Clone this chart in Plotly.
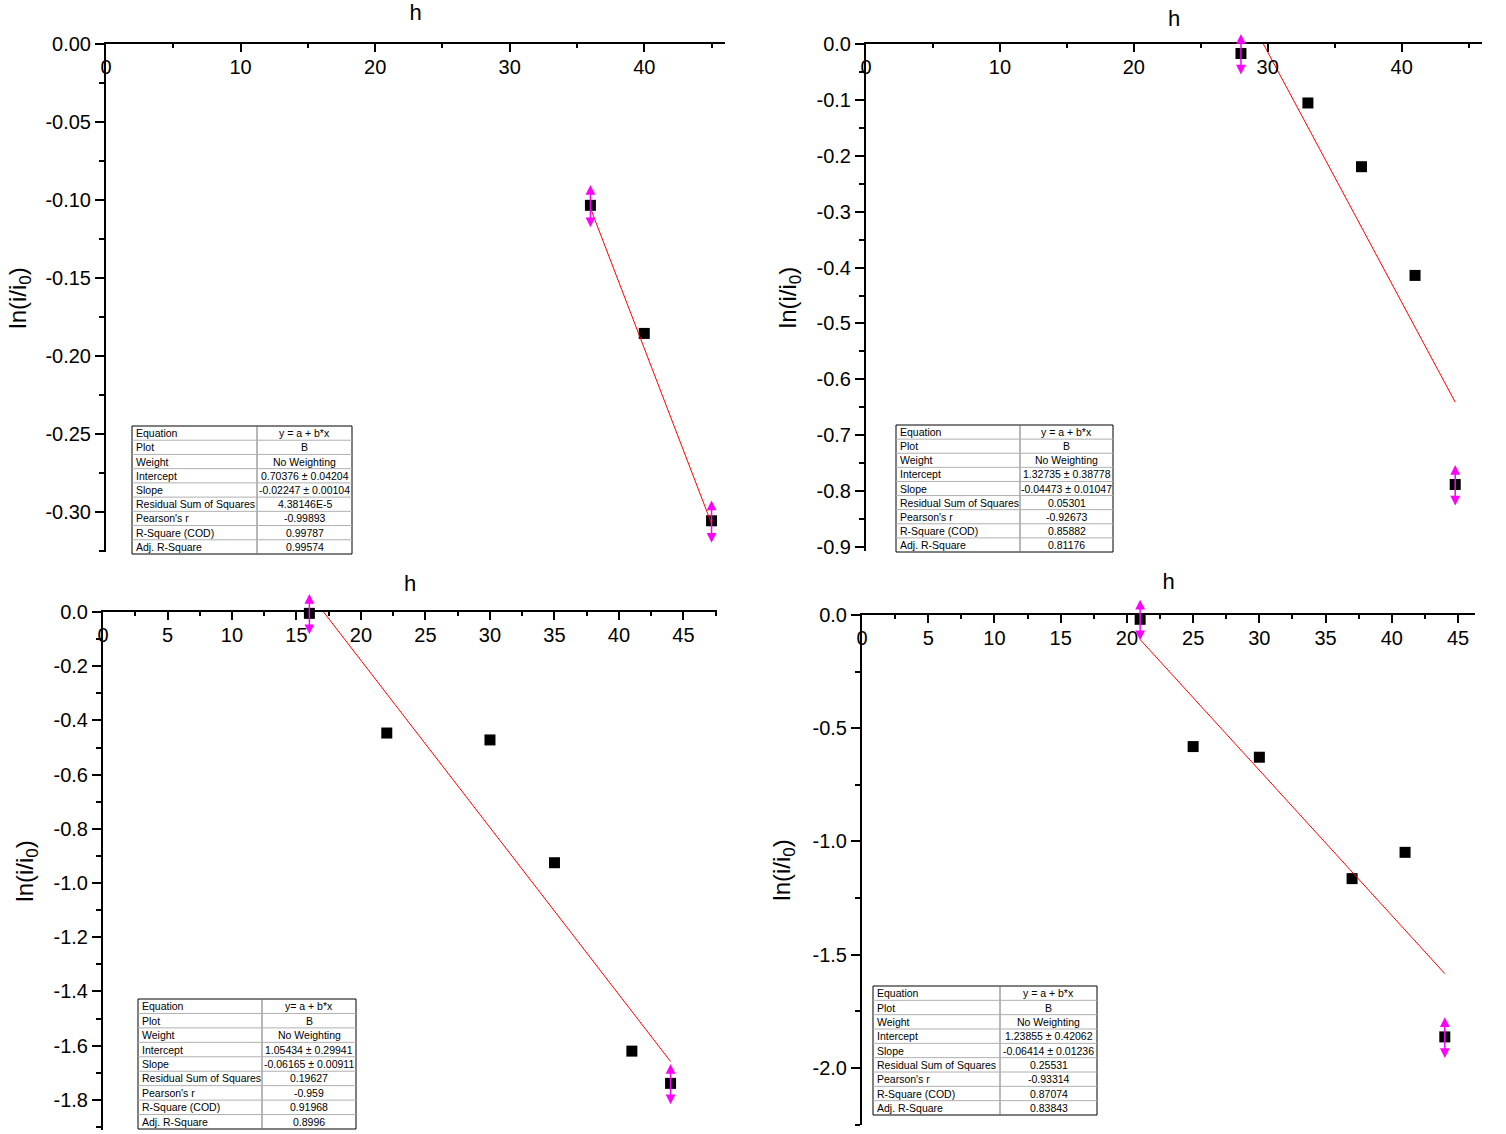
import plotly.graph_objects as go

W, H = 1506, 1134

# ---------------- data ----------------
# panel A (top-left)
xA = [36.0, 40.0, 45.0]
yA = [-0.1034, -0.1855, -0.3056]
errA = [0.014, 0.014]          # on first and last points
fitA = [0.70376, -0.02247]     # intercept, slope

# panel B (top-right)
xB = [28.0, 33.0, 37.0, 41.0, 44.0]
yB = [-0.017, -0.1055, -0.2195, -0.414, -0.788]
errB = [0.0375, 0.0375]
fitB = [1.32735, -0.04473]

# panel C (bottom-left)
xC = [16.0, 22.0, 30.0, 35.0, 41.0, 44.0]
yC = [-0.005, -0.4465, -0.472, -0.925, -1.62, -1.739]
errC = [0.077, 0.077]
fitC = [1.05434, -0.06165]

# panel D (bottom-right)
xD = [21.0, 25.0, 30.0, 37.0, 41.0, 44.0]
yD = [-0.019, -0.581, -0.628, -1.164, -1.048, -1.863]
errD = [0.093, 0.093]
fitD = [1.23855, -0.06414]

tbl_labels = ["Equation", "Plot", "Weight", "Intercept", "Slope",
              "Residual Sum of Squares", "Pearson's r", "R-Square (COD)", "Adj. R-Square"]
tblA = ["y = a + b*x", "B", "No Weighting", "0.70376 ± 0.04204", "-0.02247 ± 0.00104",
        "4.38146E-5", "-0.99893", "0.99787", "0.99574"]
tblB = ["y = a + b*x", "B", "No Weighting", "1.32735 ± 0.38778", "-0.04473 ± 0.01047",
        "0.05301", "-0.92673", "0.85882", "0.81176"]
tblC = ["y= a + b*x", "B", "No Weighting", "1.05434 ± 0.29941", "-0.06165 ± 0.00911",
        "0.19627", "-0.959", "0.91968", "0.8996"]
tblD = ["y = a + b*x", "B", "No Weighting", "1.23855 ± 0.42062", "-0.06414 ± 0.01236",
        "0.25531", "-0.93314", "0.87074", "0.83843"]

x_title = "h"
y_title = "ln(i/i<sub>0</sub>)"

# ---------------- layout config (pixels) ----------------
panels = [
    dict(x=xA, y=yA, err=errA, fit=fitA, tbl=tblA,
         px=(106, 725), py=(44, 552), xr=[0, 46.0], yr=[-0.3256, 0],
         xdt=10, ydt=0.05, yfmt="{:.2f}", tb=(132, 352, 257, 426, 554),
         hst=29, yst=12),
    dict(x=xB, y=yB, err=errB, fit=fitB, tbl=tblB,
         px=(866, 1482), py=(44, 551), xr=[0, 46.0], yr=[-0.907, 0],
         xdt=10, ydt=0.1, yfmt="{:.1f}", tb=(896, 1113, 1020, 425, 552),
         hst=23, yst=13),
    dict(x=xC, y=yC, err=errC, fit=fitC, tbl=tblC,
         px=(103, 717), py=(612, 1130), xr=[0, 47.6], yr=[-1.911, 0],
         xdt=5, ydt=0.2, yfmt="{:.1f}", tb=(138, 356, 262, 999, 1129),
         hst=26, yst=13),
    dict(x=xD, y=yD, err=errD, fit=fitD, tbl=tblD,
         px=(862, 1475), py=(615, 1125), xr=[0, 46.28], yr=[-2.252, 0],
         xdt=5, ydt=0.5, yfmt="{:.1f}", tb=(873, 1097, 1000, 986, 1115),
         hst=31, yst=15),
]

FONT = "Liberation Sans, Arial, sans-serif"

def fx(p):
    return p / W

def fy(p):
    return 1 - p / H

fig = go.Figure()
shapes = []
annotations = []

for i, P in enumerate(panels, start=1):
    xs = "x" if i == 1 else f"x{i}"
    ys = "y" if i == 1 else f"y{i}"
    # data markers
    fig.add_trace(go.Scatter(x=P["x"], y=P["y"], mode="markers", xaxis=xs, yaxis=ys,
                             marker=dict(symbol="square", size=11, color="black"),
                             showlegend=False, cliponaxis=False))
    # fit line
    a, b = P["fit"]
    lx = [P["x"][0], P["x"][-1]]
    ly = [a + b * v for v in lx]
    fig.add_trace(go.Scatter(x=lx, y=ly, mode="lines", xaxis=xs, yaxis=ys,
                             line=dict(color="red", width=1), showlegend=False))
    # error bars (double-headed magenta arrows) on first and last points
    ex = [P["x"][0], P["x"][-1]]
    ey = [P["y"][0], P["y"][-1]]
    for xv, yv, e in zip(ex, ey, P["err"]):
        annotations.append(dict(xref=xs, yref=ys, axref=xs, ayref=ys,
                                x=xv, y=yv - e, ax=xv, ay=yv + e, text="",
                                showarrow=True, arrowside="end+start", arrowhead=2,
                                startarrowhead=2, arrowsize=1.3, startarrowsize=1.3,
                                arrowwidth=1.5, arrowcolor="#FF00FF",
                                standoff=0, startstandoff=0))

    # y tick labels with ASCII hyphen
    n = int(round(-P["yr"][0] / P["ydt"])) + 1
    yvals = [-k * P["ydt"] for k in range(n) if k * P["ydt"] <= -P["yr"][0] + 1e-9]
    ytext = []
    for v in yvals:
        t = P["yfmt"].format(v)
        if t in ("-0.0", "-0.00"):
            t = t[1:]
        ytext.append(t)

    xaxis = dict(domain=[fx(P["px"][0]), fx(P["px"][1])], range=P["xr"], anchor=ys,
                 side="top", showline=True, linecolor="black", linewidth=2,
                 ticks="inside", ticklen=8, tickwidth=2, tickcolor="black",
                 ticklabelposition="inside", ticklabeloverflow="allow",
                 ticklabelstandoff=9,
                 dtick=P["xdt"], tick0=0, automargin=False,
                 minor=dict(ticks="inside", ticklen=4, tickwidth=2, tickcolor="black",
                            dtick=P["xdt"] / 2, showgrid=False),
                 tickfont=dict(family=FONT, size=20, color="black"),
                 title=dict(text=x_title, font=dict(family=FONT, size=22, color="black"),
                            standoff=P["hst"]),
                 showgrid=False, zeroline=False, fixedrange=True)
    yaxis = dict(domain=[fy(P["py"][1]), fy(P["py"][0])], range=P["yr"], anchor=xs,
                 showline=True, linecolor="black", linewidth=2, automargin=False,
                 ticks="outside", ticklen=9, tickwidth=2, tickcolor="black",
                 tickmode="array", tickvals=yvals, ticktext=ytext,
                 minor=dict(ticks="outside", ticklen=5, tickwidth=2, tickcolor="black",
                            dtick=P["ydt"] / 2, tick0=0, showgrid=False),
                 tickfont=dict(family=FONT, size=20, color="black"),
                 title=dict(text=y_title, font=dict(family=FONT, size=24, color="black"),
                            standoff=P["yst"]),
                 showgrid=False, zeroline=False, fixedrange=True)
    fig.layout["xaxis" if i == 1 else f"xaxis{i}"] = xaxis
    fig.layout["yaxis" if i == 1 else f"yaxis{i}"] = yaxis

    # results table
    x0, x1, xm, y0, y1 = P["tb"]
    nrow = len(tbl_labels)
    rh = (y1 - y0) / nrow
    shapes.append(dict(type="rect", xref="paper", yref="paper", x0=fx(x0), x1=fx(x1),
                       y0=fy(y1), y1=fy(y0), line=dict(color="black", width=1),
                       fillcolor="white", layer="above"))
    shapes.append(dict(type="line", xref="paper", yref="paper", x0=fx(xm), x1=fx(xm),
                       y0=fy(y1), y1=fy(y0), line=dict(color="#707070", width=1), layer="above"))
    for r in range(1, nrow):
        yy = y0 + r * rh
        shapes.append(dict(type="line", xref="paper", yref="paper", x0=fx(x0), x1=fx(x1),
                           y0=fy(yy), y1=fy(yy), line=dict(color="#b0b0b0", width=1),
                           layer="above"))
    for r, (lab, val) in enumerate(zip(tbl_labels, P["tbl"])):
        yc = y0 + (r + 0.5) * rh
        annotations.append(dict(xref="paper", yref="paper", x=fx(x0 + 2), y=fy(yc),
                                xanchor="left", yanchor="middle", text=lab, showarrow=False,
                                font=dict(family=FONT, size=10.5, color="black")))
        annotations.append(dict(xref="paper", yref="paper", x=fx((xm + x1) / 2), y=fy(yc),
                                xanchor="center", yanchor="middle", text=val, showarrow=False,
                                font=dict(family=FONT, size=10.5, color="black")))

fig.update_layout(width=W, height=H, margin=dict(l=0, r=0, t=0, b=0, autoexpand=False),
                  paper_bgcolor="white", plot_bgcolor="white",
                  shapes=shapes, annotations=annotations, showlegend=False)

fig.write_html("out.html", config={"displayModeBar": False})
